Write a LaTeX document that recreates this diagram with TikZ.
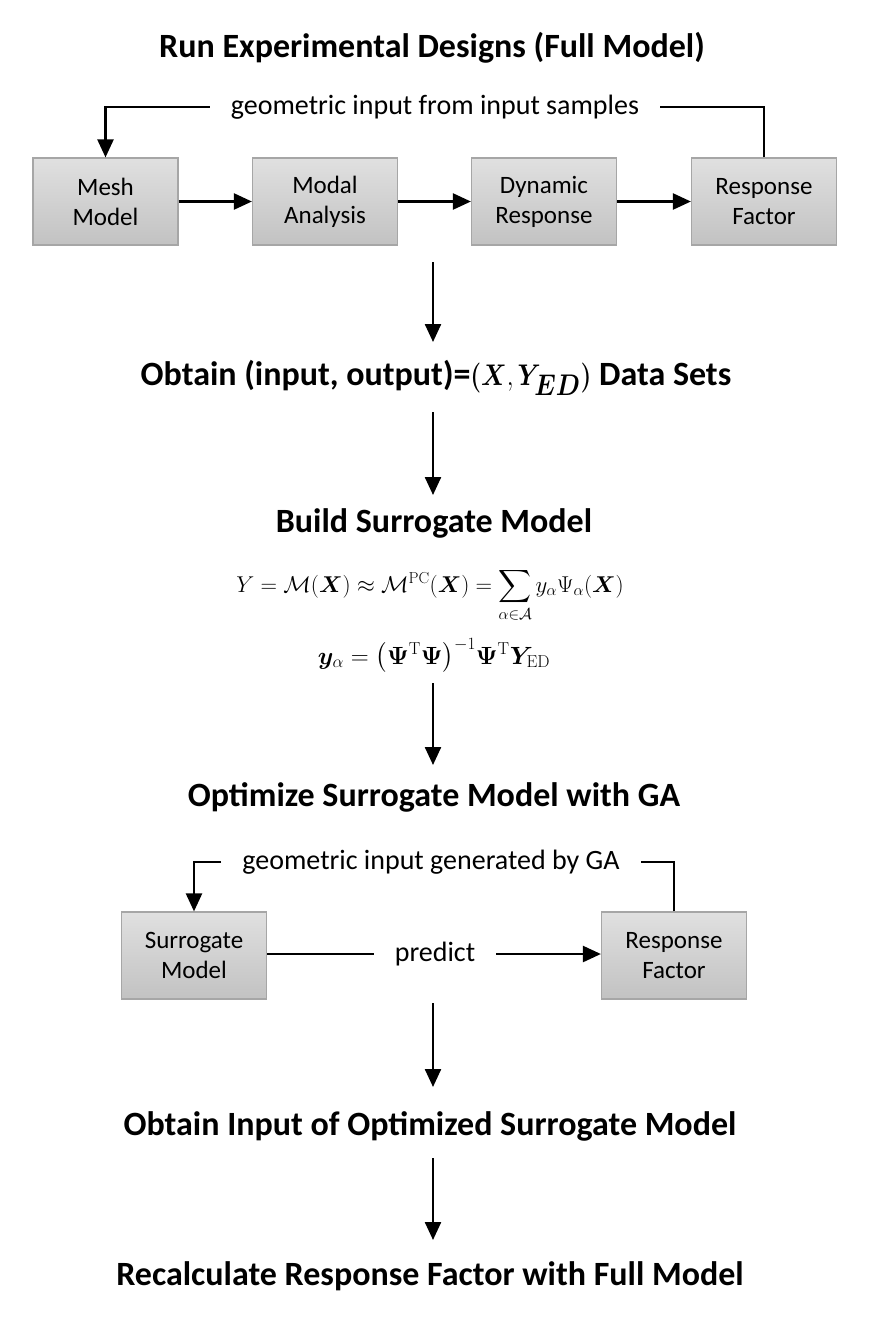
\documentclass[tikz,border=0pt]{standalone}
\usepackage{graphicx}
\usepackage{amsmath,bm}
\usepackage[no-math]{fontspec}
\setmainfont{Carlito}
\usetikzlibrary{arrows.meta}
\definecolor{boxtop}{HTML}{E0E0E0}
\definecolor{boxbot}{HTML}{C2C2C2}
\definecolor{boxedge}{HTML}{A6A6A6}
\begin{document}
\begin{tikzpicture}[x=1pt,y=-1pt,
  box/.style={draw=boxedge, line width=1.2pt, top color=boxtop, bottom color=boxbot,
    minimum width=145pt, minimum height=87pt, inner sep=0pt, align=center,
    font=\fontsize{25}{30}\selectfont},
  ttl/.style={font=\bfseries\fontsize{34}{40}\selectfont, inner sep=0pt},
  lbl/.style={font=\fontsize{28}{32}\selectfont, inner xsep=21pt, inner ysep=0pt},
  fml/.style={font=\fontsize{24}{28}\selectfont, inner sep=0pt},
  arr/.style={line width=2.4pt, -{Triangle[length=18pt,width=16pt]}},
  ln/.style={line width=2.4pt}]
\useasboundingbox (0,0) rectangle (879,1331);

% stage 1
\node[ttl] (t1) at (432,48) {Run Experimental Designs (Full Model)};
\node[box] (mesh)  at (105.5,201.5) {Mesh\\Model};
\node[box] (modal) at (325,201.5) {Modal\\Analysis};
\node[box] (dyn)   at (544,201.5) {Dynamic\\Response};
\node[box] (rf1)   at (764,201.5) {Response\\Factor};
\node[lbl] (g1) at (435,107) {geometric input from input samples};
\draw[ln] (rf1.north) |- (g1.east);
\draw[arr] (g1.west) -| (mesh.north);
\draw[arr] (mesh) -- (modal);
\draw[arr] (modal) -- (dyn);
\draw[arr] (dyn) -- (rf1);

\coordinate (a1s) at (433,262);
\coordinate (a1e) at (433,342);
\draw[arr] (a1s) -- (a1e);

\node[ttl] (t2) at (436,378)
  {Obtain (input, output)=\scalebox{1.0}[1.2]{$\bm{(}\bm{X},\bm{Y}_{\bm{ED}}\bm{)}$} Data Sets};
\coordinate (a2s) at (433,412);
\coordinate (a2e) at (433,495);
\draw[arr] (a2s) -- (a2e);

\node[ttl] (t3) at (434,523) {Build Surrogate Model};
\node[fml, anchor=base] (f1) at (430,592)
  {\scalebox{0.92}{$Y = \mathcal{M}(\bm X) \approx \mathcal{M}^{\mathrm{PC}}(\bm X) = \displaystyle\sum_{\alpha\in\mathcal{A}} y_\alpha \Psi_\alpha(\bm X)$}};
\node[fml, anchor=base] (f2) at (434,664)
  {$\bm y_\alpha = \bigl(\bm\Psi^{\mathrm T}\bm\Psi\bigr)^{-1}\bm\Psi^{\mathrm T}\bm Y_{\mathrm{ED}}$};
\coordinate (a3s) at (433,683);
\coordinate (a3e) at (433,765);
\draw[arr] (a3s) -- (a3e);

\node[ttl] (t4) at (434,797) {Optimize Surrogate Model with GA};
\node[box] (sm)  at (194,955.5) {Surrogate\\Model};
\node[box] (rf2) at (674,955.5) {Response\\Factor};
\node[lbl] (g2) at (431,862) {geometric input generated by GA};
\draw[ln] (rf2.north) |- (g2.east);
\draw[arr] (g2.west) -| (sm.north);
\node[lbl] (pr) at (435,954) {predict};
\draw[ln] (sm.east |- pr) -- (pr.west);
\draw[arr] (pr.east) -- (rf2.west |- pr);

\coordinate (a4s) at (433,1003);
\coordinate (a4e) at (433,1087);
\draw[arr] (a4s) -- (a4e);

\node[ttl] (t5) at (430,1126) {Obtain Input of Optimized Surrogate Model};
\coordinate (a5s) at (433,1158);
\coordinate (a5e) at (433,1240);
\draw[arr] (a5s) -- (a5e);

\node[ttl] (t6) at (430,1276) {Recalculate Response Factor with Full Model};
\end{tikzpicture}
\end{document}
